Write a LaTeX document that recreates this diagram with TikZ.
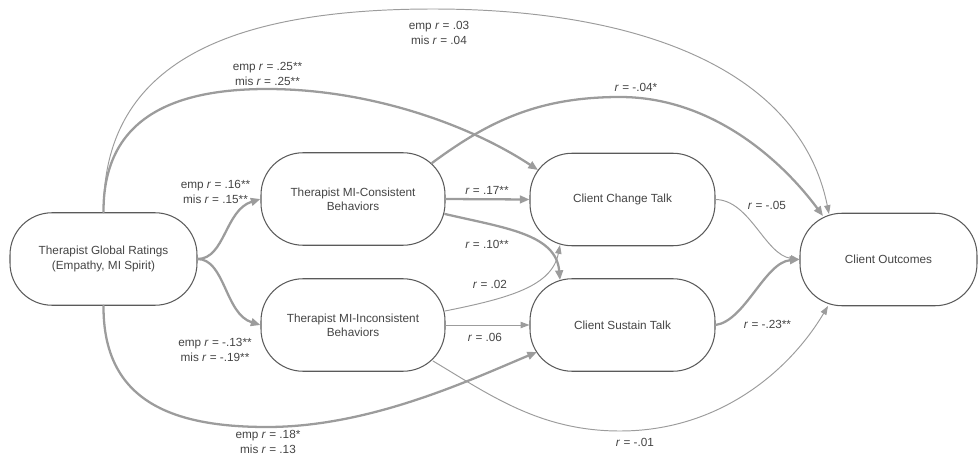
\documentclass[tikz,border=0pt]{standalone}
\usepackage{fontspec}
\setmainfont{Liberation Sans}
\usetikzlibrary{arrows.meta}
\definecolor{linegray}{HTML}{9C9C9C}
\definecolor{inkgray}{HTML}{444444}
\definecolor{rimgray}{HTML}{5A5A5A}
\begin{document}
\begin{tikzpicture}[x=0.02cm, y=-0.02cm, line join=round, line cap=round, font=\fontsize{6.7}{8.1}\selectfont, text=inkgray,
    box/.style={draw=rimgray, line width=0.6pt, rounded corners=0.84cm, minimum height=1.85cm, align=center, inner sep=0pt},
    strong/.style={draw=linegray, line width=1.3pt, -{Triangle[length=5.5pt,width=4.4pt]}},
    weak/.style={draw=linegray, line width=0.55pt, -{Triangle[length=5pt,width=3.6pt]}},
    lab/.style={align=center, inner sep=1pt}]
    \useasboundingbox (0,0) rectangle (978,460);
    % boxes
    \node[box, minimum width=3.74cm] (glob) at (103.5,259) {Therapist Global Ratings\\(Empathy, MI Spirit)};
    \node[box, minimum width=3.68cm] (cons) at (353,199) {Therapist MI-Consistent\\Behaviors};
    \node[box, minimum width=3.68cm] (minc) at (353,325) {Therapist MI-Inconsistent\\Behaviors};
    \node[box, minimum width=3.70cm] (chg) at (622.5,199.5) {Client Change Talk};
    \node[box, minimum width=3.70cm] (sus) at (622.5,325) {Client Sustain Talk};
    \node[box, minimum width=3.54cm] (outc) at (888.5,259.5) {Client Outcomes};
    % paths out of the global ratings
    \draw[strong] (glob.east) .. controls (225,259) and (225,210) .. (cons.west);
    \draw[strong] (glob.east) .. controls (225,259) and (225,314) .. (minc.west);
    \draw[strong] (glob.north) .. controls (103,120) and (170,89) .. (267,89)
        .. controls (370,89) and (470,125) .. ([shift={(-84.5,-29.5)}]chg.center);
    \draw[weak] (glob.north) .. controls (103,80) and (200,9) .. (433,9)
        .. controls (640,9) and (800,70) .. ([shift={(-59.5,-45.5)}]outc.center);
    \draw[strong] (glob.south) .. controls (103,400) and (170,427) .. (267,427)
        .. controls (370,427) and (470,380) .. ([shift={(-85.5,27)}]sus.center);
    % therapist behaviors
    \draw[strong] (cons.east) -- (chg.west);
    \draw[strong] ([shift={(92,15)}]cons.center) .. controls (505,228) and (556,234) .. ([shift={(-62.5,-45)}]sus.center);
    \draw[strong] ([shift={(79,-36)}]cons.center) .. controls (490,120) and (540,97) .. (620,97)
        .. controls (710,97) and (780,158) .. ([shift={(-65.5,-43.5)}]outc.center);
    \draw[weak] ([shift={(92,-14)}]minc.center) .. controls (510,298) and (552,286) .. ([shift={(-62.5,45.5)}]chg.center);
    \draw[weak] (minc.east) -- (sus.west);
    \draw[weak] ([shift={(80,36)}]minc.center) .. controls (490,395) and (540,431) .. (620,431)
        .. controls (720,431) and (790,370) .. ([shift={(-60.5,46.5)}]outc.center);
    % client talk
    \draw[weak] (chg.east) .. controls (750,200) and (765,255) .. (outc.west);
    \draw[strong] (sus.east) .. controls (745,321) and (765,262) .. (outc.west);
    % labels
    \node[lab] (l1) at (439,33) {emp \textit{r} = .03\\mis \textit{r} = .04};
    \node[lab] (l2) at (267.5,74) {emp \textit{r} = .25**\\mis \textit{r} = .25**};
    \node[lab] (l3) at (636,87) {\textit{r} = -.04*};
    \node[lab] (l4) at (215.5,192) {emp \textit{r} = .16**\\mis \textit{r} = .15**};
    \node[lab] (l5) at (487,190) {\textit{r} = .17**};
    \node[lab] (l6) at (487,244) {\textit{r} = .10**};
    \node[lab] (l7) at (490,284) {\textit{r} = .02};
    \node[lab] (l8) at (485,337) {\textit{r} = .06};
    \node[lab] (l9) at (215,350) {emp \textit{r} = -.13**\\mis \textit{r} = -.19**};
    \node[lab] (l10) at (268,442) {emp \textit{r} = .18*\\mis \textit{r} = .13};
    \node[lab] (l11) at (635,442) {\textit{r} = -.01};
    \node[lab] (l12) at (767,205) {\textit{r} = -.05};
    \node[lab] (l13) at (767.5,324) {\textit{r} = -.23**};
\end{tikzpicture}
\end{document}
